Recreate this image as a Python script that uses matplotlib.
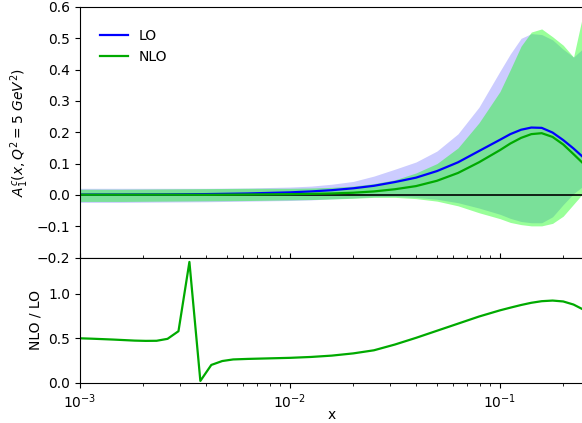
#!/usr/bin/env python3
"""
a1c_lo_nlo.py

Charm asymmetry A_1^c(x, Q^2 = 5 GeV^2) at LO and NLO with uncertainty
bands, plus the NLO / LO ratio in a lower panel.
"""

import numpy as np
import matplotlib.pyplot as plt

# x grid for the upper panel (log spaced by hand)
X_TOP = [0.001, 0.00158, 0.00251, 0.00398, 0.00631, 0.01, 0.0126, 0.0158,
         0.02, 0.0251, 0.0316, 0.0398, 0.0501, 0.0631, 0.0794, 0.1, 0.112,
         0.126, 0.141, 0.158, 0.178, 0.2, 0.224, 0.251]

LO_CENTRAL = [0.0009, 0.0011, 0.0015, 0.0025, 0.0045, 0.008, 0.011, 0.015,
              0.021, 0.029, 0.041, 0.055, 0.076, 0.104, 0.140, 0.176, 0.194,
              0.208, 0.215, 0.214, 0.199, 0.175, 0.148, 0.118]
LO_UPPER = [0.021, 0.021, 0.021, 0.021, 0.022, 0.025, 0.028, 0.034,
            0.043, 0.060, 0.082, 0.105, 0.140, 0.195, 0.280, 0.395, 0.450,
            0.500, 0.515, 0.512, 0.495, 0.465, 0.440, 0.470]
LO_LOWER = [-0.024, -0.024, -0.023, -0.022, -0.020, -0.018, -0.016, -0.013,
            -0.010, -0.006, -0.005, -0.008, -0.014, -0.025, -0.042, -0.062,
            -0.075, -0.085, -0.089, -0.089, -0.070, -0.031, 0.004, 0.030]

NLO_CENTRAL = [0.00045, 0.0005, 0.0007, 0.0003, 0.0012, 0.0022, 0.0032,
               0.0045, 0.0069, 0.011, 0.018, 0.028, 0.045, 0.070, 0.104,
               0.143, 0.164, 0.182, 0.194, 0.197, 0.185, 0.161, 0.130, 0.098]
NLO_UPPER = [0.018, 0.018, 0.019, 0.020, 0.021, 0.021, 0.022, 0.024,
             0.028, 0.036, 0.048, 0.070, 0.100, 0.150, 0.230, 0.330, 0.400,
             0.475, 0.520, 0.530, 0.505, 0.478, 0.440, 0.590]
NLO_LOWER = [-0.021, -0.021, -0.020, -0.019, -0.018, -0.016, -0.015, -0.013,
             -0.011, -0.008, -0.008, -0.012, -0.020, -0.035, -0.057, -0.076,
             -0.088, -0.095, -0.099, -0.099, -0.091, -0.068, -0.030, 0.008]

# ratio panel: finer grid at small x to keep the spike
X_RATIO = [0.001, 0.001127, 0.001272, 0.001433, 0.001616, 0.001822,
           0.002054, 0.002316, 0.002611, 0.002944, 0.003319, 0.003742,
           0.004219, 0.004757, 0.005363, 0.00631, 0.01, 0.0126, 0.0158,
           0.02, 0.0251, 0.0316, 0.0398, 0.0501, 0.0631, 0.0794, 0.1,
           0.112, 0.126, 0.141, 0.158, 0.178, 0.2, 0.224, 0.251]
RATIO = [0.500, 0.496, 0.491, 0.486, 0.480, 0.474, 0.471, 0.472, 0.494,
         0.580, 1.360, 0.020, 0.200, 0.244, 0.262, 0.268, 0.280, 0.290,
         0.305, 0.330, 0.365, 0.430, 0.505, 0.585, 0.665, 0.745, 0.815,
         0.845, 0.875, 0.900, 0.918, 0.925, 0.915, 0.880, 0.820]

LO_COLOR = "blue"
NLO_COLOR = "#00aa00"


def main():
    fig = plt.figure(figsize=(5.82, 4.23), dpi=100)
    W, H = 582.0, 423.0

    # axes placed in pixel units of the original picture
    left, right = 80 / W, 584 / W
    top_ax = fig.add_axes([left, (H - 257.5) / H, right - left, 250.5 / H])
    bot_ax = fig.add_axes([left, (H - 382.7) / H, right - left, 125.2 / H],
                          sharex=top_ax)

    x = np.array(X_TOP)

    # uncertainty bands
    top_ax.fill_between(x, LO_LOWER, LO_UPPER, color="blue", alpha=0.2,
                        linewidth=0)
    top_ax.fill_between(x, NLO_LOWER, NLO_UPPER, color="lime", alpha=0.4,
                        linewidth=0)
    top_ax.axhline(0.0, color="black", linewidth=1.2)
    top_ax.plot(x, LO_CENTRAL, color=LO_COLOR, linewidth=1.6, label="LO")
    top_ax.plot(x, NLO_CENTRAL, color=NLO_COLOR, linewidth=1.6, label="NLO")

    top_ax.set_xscale("log")
    top_ax.set_xlim(1e-3, 10 ** (-3 + 504 / 210))
    top_ax.set_ylim(-0.2, 0.6)
    top_ax.set_yticks(np.arange(-0.2, 0.61, 0.1))
    top_ax.set_ylabel(r"$A_1^c(x, Q^2 = 5\ GeV^2)$")
    top_ax.tick_params(axis="x", which="both", direction="in",
                       labelbottom=False)
    top_ax.legend(loc="upper left", bbox_to_anchor=(0.0286, 0.934),
                  borderaxespad=0, frameon=False)

    # ratio panel
    bot_ax.plot(X_RATIO, RATIO, color=NLO_COLOR, linewidth=1.6)
    bot_ax.set_ylim(0, 1.41)
    bot_ax.set_yticks([0.0, 0.5, 1.0])
    bot_ax.set_ylabel("NLO / LO")
    bot_ax.set_xlabel("x", labelpad=-2)

    fig.savefig("out.png", dpi=100)


if __name__ == "__main__":
    main()
